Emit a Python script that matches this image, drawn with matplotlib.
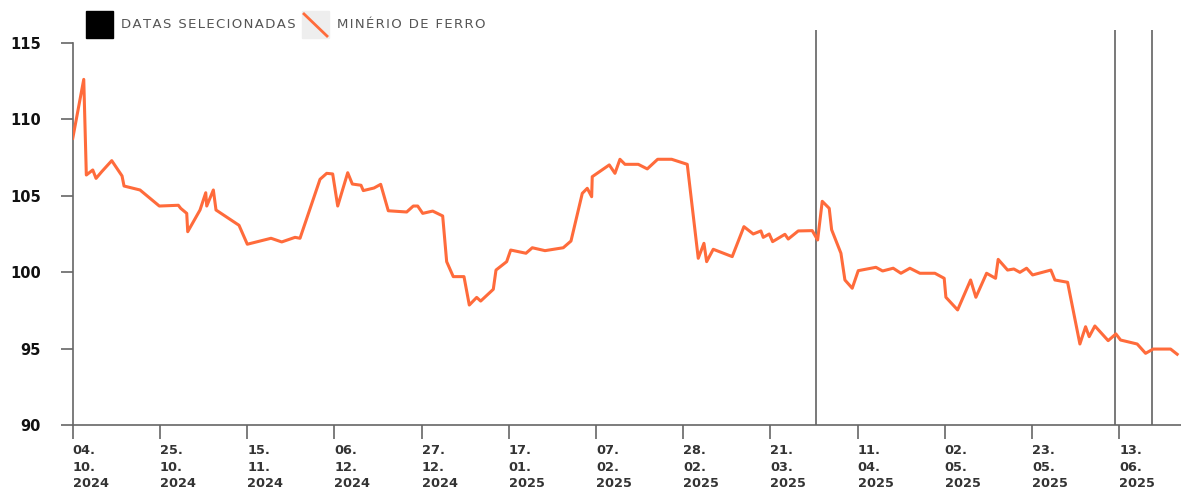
import matplotlib
matplotlib.use('Agg')
import matplotlib.pyplot as plt
from matplotlib.patches import Rectangle
from matplotlib.lines import Line2D

# dias contados a partir de 04.10.2024
dias = [0, 2.65, 3.27, 4.82, 5.61, 6.98, 9.39, 11.87, 12.35, 16.2,
        20.85, 25.43, 26.0, 27.45, 27.69, 30.65, 32.03, 32.27, 33.86, 34.5,
        40.04, 42.04, 47.75, 50.33, 53.53, 54.73, 59.55, 61.16, 62.6, 63.81,
        66.22, 67.33, 69.42, 69.97, 72.55, 74.16, 75.99, 80.42, 82.01, 83.07,
        84.28, 86.68, 89.09, 90.05, 91.64, 94.22, 95.5, 97.28, 98.24, 101.28,
        101.93, 104.5, 105.47, 109.15, 110.67, 113.73, 118.13, 119.99, 122.71, 123.91,
        124.97, 125.11, 129.21, 130.58, 131.78, 132.99, 136.19, 138.36, 140.86, 144.23,
        147.99, 150.64, 152.01, 152.66, 154.25, 158.82, 161.64, 163.88, 165.73, 166.29,
        167.73, 168.55, 171.51, 172.31, 174.72, 178.09, 179.39, 180.5, 182.18, 182.76,
        185.0, 185.96, 187.72, 189.17, 193.43, 195.04, 197.59, 199.45, 201.61, 204.02,
        207.63, 209.87, 210.28, 213.1, 216.23, 217.5, 220.08, 222.24, 222.87, 225.13,
        226.65, 228.1, 229.71, 231.16, 235.56, 236.53, 239.59, 242.55, 243.92, 244.79,
        246.16, 249.36, 251.22, 252.35, 256.35, 258.37, 260.2, 264.39, 265.98]

minerio = [108.76, 112.62, 106.36, 106.69, 106.14, 106.58, 107.30, 106.30, 105.64, 105.38,
           104.33, 104.38, 104.18, 103.85, 102.65, 104.07, 105.20, 104.33, 105.38, 104.07,
           103.07, 101.83, 102.22, 101.98, 102.28, 102.22, 106.08, 106.47, 106.43, 104.33,
           106.51, 105.77, 105.69, 105.34, 105.51, 105.75, 104.02, 103.94, 104.33, 104.33,
           103.85, 104.00, 103.68, 100.69, 99.71, 99.71, 97.85, 98.35, 98.11, 98.88,
           100.14, 100.69, 101.45, 101.24, 101.60, 101.41, 101.60, 102.04, 105.16, 105.49,
           104.94, 106.25, 107.02, 106.47, 107.39, 107.06, 107.06, 106.76, 107.39, 107.39,
           107.06, 100.91, 101.89, 100.69, 101.50, 101.02, 102.98, 102.50, 102.70, 102.28,
           102.50, 102.00, 102.48, 102.17, 102.70, 102.72, 102.11, 104.64, 104.18, 102.78,
           101.24, 99.49, 98.95, 100.10, 100.32, 100.08, 100.26, 99.93, 100.26, 99.93,
           99.93, 99.60, 98.36, 97.53, 99.49, 98.36, 99.93, 99.60, 100.84, 100.14,
           100.21, 99.99, 100.26, 99.82, 100.14, 99.49, 99.34, 95.30, 96.43, 95.78,
           96.48, 95.52, 95.96, 95.56, 95.30, 94.69, 94.97, 94.97, 94.63]

datas_selecionadas = [179, 251, 260]

tick_dias = [0, 21, 42, 63, 84, 105, 126, 147, 168, 189, 210, 231, 252]
tick_labels = ['04.\n10.\n2024', '25.\n10.\n2024', '15.\n11.\n2024', '06.\n12.\n2024',
               '27.\n12.\n2024', '17.\n01.\n2025', '07.\n02.\n2025', '28.\n02.\n2025',
               '21.\n03.\n2025', '11.\n04.\n2025', '02.\n05.\n2025', '23.\n05.\n2025',
               '13.\n06.\n2025']
y_ticks = [90, 95, 100, 105, 110, 115]

laranja = '#ff6b3b'
cinza = '#555555'


def espacar(txt):
    # espaçamento entre letras com hair space
    return '\u200a'.join(txt)


fig = plt.figure(figsize=(11.81, 4.92), dpi=100)
ax = fig.add_axes([0.0616, 0.1362, 1 - 0.0616, 0.939 - 0.1362])

for d in datas_selecionadas:
    ax.axvline(d, color=cinza, lw=1.1, zorder=1)

ax.plot(dias, minerio, color=laranja, lw=2.2, zorder=3)

ax.set_xlim(0, 266.9)
ax.set_ylim(90, 115.85)
ax.spines['top'].set_visible(False)
ax.spines['right'].set_visible(False)
ax.spines['left'].set_bounds(90, 115)
for s in ['left', 'bottom']:
    ax.spines[s].set_color('#666666')
    ax.spines[s].set_linewidth(1.2)

ax.set_yticks(y_ticks)
ax.set_yticklabels([str(v) for v in y_ticks], fontsize=10.5, fontweight='bold',
                   color='#111111')
ax.tick_params(axis='y', length=9, width=1.2, color='#666666', pad=14)

ax.set_xticks(tick_dias)
ax.set_xticklabels(tick_labels, fontsize=9.3, fontweight='bold', color='#333333',
                   linespacing=1.35)
ax.tick_params(axis='x', length=10, width=1.2, color='#666666', pad=4)
for lab in ax.get_xticklabels():
    lab.set_ha('left')
    lab.set_multialignment('left')

# legenda manual
fig.patches.append(Rectangle((86 / 1181, 1 - 38 / 492), 27 / 1181, 27 / 492,
                             transform=fig.transFigure, color='black'))
fig.text(121 / 1181, 1 - 25 / 492, espacar('DATAS SELECIONADAS'), fontsize=9.5,
         color=cinza, va='center', ha='left')
fig.patches.append(Rectangle((302 / 1181, 1 - 38 / 492), 27 / 1181, 27 / 492,
                             transform=fig.transFigure, color='#eeeeee'))
fig.lines.append(Line2D([303 / 1181, 328 / 1181], [1 - 13 / 492, 1 - 37 / 492],
                        transform=fig.transFigure, color=laranja, lw=2,
                        solid_capstyle='butt'))
fig.text(337 / 1181, 1 - 25 / 492, espacar('MINÉRIO DE FERRO'), fontsize=9.5,
         color=cinza, va='center', ha='left')

fig.savefig('out.png', dpi=100)
